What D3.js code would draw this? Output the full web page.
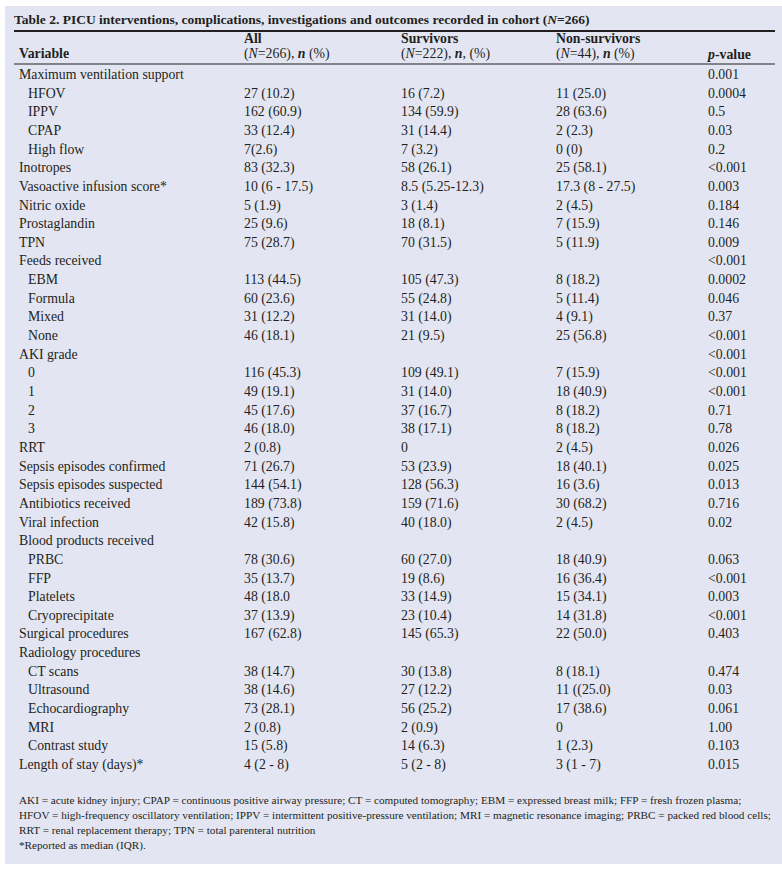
<!DOCTYPE html>
<html>
<head>
<meta charset="utf-8">
<script src="https://cdn.jsdelivr.net/npm/d3@7"></script>
<style>
  body { margin: 0; background: #fff; }
  svg text { font-family: "Liberation Serif", "Times New Roman", serif; fill: #231f20; }
</style>
</head>
<body>
<div id="table"></div>
<script>
// table content, one entry per row
const variables = ["Maximum ventilation support", "HFOV", "IPPV", "CPAP", "High flow", "Inotropes",
  "Vasoactive infusion score*", "Nitric oxide", "Prostaglandin", "TPN", "Feeds received", "EBM", "Formula",
  "Mixed", "None", "AKI grade", "0", "1", "2", "3", "RRT", "Sepsis episodes confirmed",
  "Sepsis episodes suspected", "Antibiotics received", "Viral infection", "Blood products received",
  "PRBC", "FFP", "Platelets", "Cryoprecipitate", "Surgical procedures", "Radiology procedures",
  "CT scans", "Ultrasound", "Echocardiography", "MRI", "Contrast study", "Length of stay (days)*"];
// 1 = sub-item (indented)
const subItem = [0,1,1,1,1,0,0,0,0,0,0,1,1,1,1,0,1,1,1,1,0,0,0,0,0,0,1,1,1,1,0,0,1,1,1,1,1,0];
const allCohort = ["", "27 (10.2)", "162 (60.9)", "33 (12.4)", "7(2.6)", "83 (32.3)", "10 (6 - 17.5)",
  "5 (1.9)", "25 (9.6)", "75 (28.7)", "", "113 (44.5)", "60 (23.6)", "31 (12.2)", "46 (18.1)", "",
  "116 (45.3)", "49 (19.1)", "45 (17.6)", "46 (18.0)", "2 (0.8)", "71 (26.7)", "144 (54.1)",
  "189 (73.8)", "42 (15.8)", "", "78 (30.6)", "35 (13.7)", "48 (18.0", "37 (13.9)", "167 (62.8)", "",
  "38 (14.7)", "38 (14.6)", "73 (28.1)", "2 (0.8)", "15 (5.8)", "4 (2 - 8)"];
const survivors = ["", "16 (7.2)", "134 (59.9)", "31 (14.4)", "7 (3.2)", "58 (26.1)", "8.5 (5.25-12.3)",
  "3 (1.4)", "18 (8.1)", "70 (31.5)", "", "105 (47.3)", "55 (24.8)", "31 (14.0)", "21 (9.5)", "",
  "109 (49.1)", "31 (14.0)", "37 (16.7)", "38 (17.1)", "0", "53 (23.9)", "128 (56.3)", "159 (71.6)",
  "40 (18.0)", "", "60 (27.0)", "19 (8.6)", "33 (14.9)", "23 (10.4)", "145 (65.3)", "",
  "30 (13.8)", "27 (12.2)", "56 (25.2)", "2 (0.9)", "14 (6.3)", "5 (2 - 8)"];
const nonSurvivors = ["", "11 (25.0)", "28 (63.6)", "2 (2.3)", "0 (0)", "25 (58.1)", "17.3 (8 - 27.5)",
  "2 (4.5)", "7 (15.9)", "5 (11.9)", "", "8 (18.2)", "5 (11.4)", "4 (9.1)", "25 (56.8)", "",
  "7 (15.9)", "18 (40.9)", "8 (18.2)", "8 (18.2)", "2 (4.5)", "18 (40.1)", "16 (3.6)", "30 (68.2)",
  "2 (4.5)", "", "18 (40.9)", "16 (36.4)", "15 (34.1)", "14 (31.8)", "22 (50.0)", "",
  "8 (18.1)", "11 ((25.0)", "17 (38.6)", "0", "1 (2.3)", "3 (1 - 7)"];
const pValues = ["0.001", "0.0004", "0.5", "0.03", "0.2", "<0.001", "0.003", "0.184", "0.146", "0.009",
  "<0.001", "0.0002", "0.046", "0.37", "<0.001", "<0.001", "<0.001", "<0.001", "0.71", "0.78", "0.026",
  "0.025", "0.013", "0.716", "0.02", "", "0.063", "<0.001", "0.003", "<0.001", "0.403", "",
  "0.474", "0.03", "0.061", "1.00", "0.103", "0.015"];

const footnotes = [
  "AKI = acute kidney injury; CPAP = continuous positive airway pressure; CT = computed tomography; EBM = expressed breast milk; FFP = fresh frozen plasma;",
  "HFOV = high-frequency oscillatory ventilation; IPPV = intermittent positive-pressure ventilation; MRI = magnetic resonance imaging; PRBC = packed red blood cells;",
  "RRT = renal replacement therapy; TPN = total parenteral nutrition",
  "*Reported as median (IQR)."];

const width = 782, height = 873;

const svg = d3.select("#table").append("svg")
  .attr("width", width)
  .attr("height", height);

// lavender panel
svg.append("rect")
  .attr("x", 5).attr("y", 6)
  .attr("width", width - 5).attr("height", 858)
  .attr("fill", "#e3e6f2");

// title
let title = svg.append("text")
  .attr("x", 14).attr("y", 24)
  .style("font-size", "13.5px")
  .style("font-weight", "bold");
title.append("tspan").text("Table 2. PICU interventions, complications, investigations and outcomes recorded in cohort (");
title.append("tspan").style("font-style", "italic").text("N");
title.append("tspan").text("=266)");

svg.append("line")
  .attr("x1", 14).attr("x2", 775)
  .attr("y1", 31).attr("y2", 31)
  .attr("stroke", "#231f20").attr("stroke-width", 2);

svg.append("line")
  .attr("x1", 14).attr("x2", 775)
  .attr("y1", 64).attr("y2", 64)
  .attr("stroke", "#231f20").attr("stroke-width", 1);

// columns
const colX = d3.scaleOrdinal()
  .domain(["var", "all", "surv", "non", "p"])
  .range([19, 244, 401, 556, 708]);

// rows
const yScale = d3.scalePoint()
  .domain(d3.range(variables.length))
  .range([79, 769]);

// header
const head = svg.append("g").style("font-size", "13.8px");

head.append("text").attr("x", colX("var")).attr("y", 58)
  .style("font-weight", "bold").text("Variable");

function headerCell(key, top, n) {
  head.append("text").attr("x", colX(key)).attr("y", 43)
    .style("font-weight", "bold").text(top);
  let t = head.append("text").attr("x", colX(key)).attr("y", 58);
  t.append("tspan").text("(");
  t.append("tspan").style("font-style", "italic").text("N");
  t.append("tspan").text("=" + n[0] + "), ");
  t.append("tspan").style("font-style", "italic").style("font-weight", "bold").text("n");
  t.append("tspan").text(n[1]);
}
headerCell("all", "All", ["266", " (%)"]);
headerCell("surv", "Survivors", ["222", ", (%)"]);
headerCell("non", "Non-survivors", ["44", " (%)"]);

let pHead = head.append("text").attr("x", colX("p")).attr("y", 59).style("font-weight", "bold");
pHead.append("tspan").style("font-style", "italic").text("p");
pHead.append("tspan").text("-value");

// body rows
const rows = svg.append("g").style("font-size", "13.8px")
  .selectAll("g")
  .data(variables.map((v, i) => ({
    label: v, sub: subItem[i], all: allCohort[i], surv: survivors[i], non: nonSurvivors[i], p: pValues[i]
  })))
  .join("g")
  .attr("transform", (d, i) => "translate(0," + yScale(i) + ")");

rows.append("text").attr("x", d => colX("var") + (d.sub ? 9 : 0)).text(d => d.label);
rows.append("text").attr("x", colX("all")).text(d => d.all);
rows.append("text").attr("x", colX("surv")).text(d => d.surv);
rows.append("text").attr("x", colX("non")).text(d => d.non);
rows.append("text").attr("x", colX("p")).text(d => d.p);

// footnotes
svg.append("g").style("font-size", "11.2px")
  .selectAll("text")
  .data(footnotes)
  .join("text")
  .attr("x", 19)
  .attr("y", (d, i) => 804 + i * 15)
  .text(d => d);
</script>
</body>
</html>
